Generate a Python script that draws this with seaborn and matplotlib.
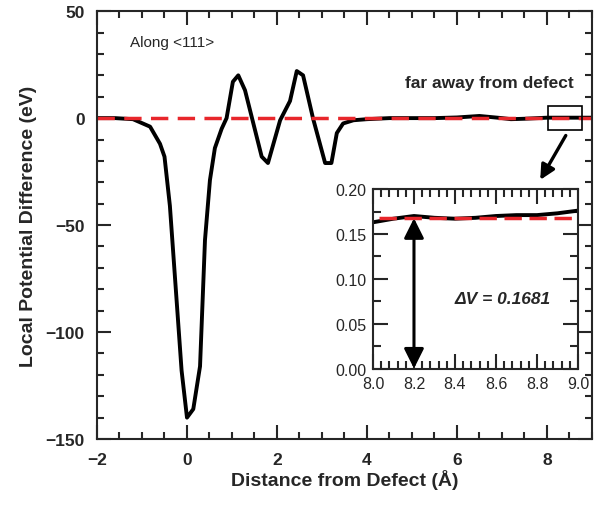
import matplotlib
matplotlib.use("Agg")
import matplotlib.pyplot as plt
from matplotlib.ticker import MultipleLocator
from matplotlib.patches import Rectangle
import seaborn as sns
import pandas as pd

# main curve: local potential difference along <111>
dist = [-2.0, -1.6, -1.2, -0.82, -0.6, -0.5, -0.38, -0.12, 0.0, 0.14, 0.29, 0.4,
        0.51, 0.62, 0.77, 0.88, 1.02, 1.14, 1.29, 1.66, 1.8, 2.07, 2.29, 2.44,
        2.58, 2.8, 3.07, 3.21, 3.33, 3.47, 3.7, 4.0, 4.5, 5.0, 5.5, 6.0, 6.5,
        7.0, 7.2, 7.5, 8.0, 8.5, 9.0]
pot = [0, 0, -0.5, -4, -12, -18, -41, -118, -140, -136, -116, -57,
       -29, -14, -5, 0, 17, 20, 13, -18, -21, -1, 8, 22,
       20, 0, -21, -21, -7, -2.5, -1, -0.5, 0, 0, 0, 0.3, 1,
       0, -0.5, -0.3, 0.2, 0.2, 0.2]

# inset: far away from defect
far_x = [8.0, 8.1, 8.2, 8.3, 8.4, 8.5, 8.6, 8.7, 8.8, 8.9, 9.0]
far_v = [0.163, 0.167, 0.170, 0.168, 0.167, 0.168, 0.170, 0.171, 0.171, 0.173, 0.176]
delta_v = 0.1681

main_df = pd.DataFrame({"x": dist, "y": pot})
ref_df = pd.DataFrame({"x": [-2.0, 9.0], "y": [0.0, 0.0]})
far_df = pd.DataFrame({"x": far_x, "y": far_v})
dv_df = pd.DataFrame({"x": [8.03, 8.99], "y": [delta_v, delta_v]})

sns.set_style("ticks")
plt.rcParams["font.family"] = ["Liberation Sans", "DejaVu Sans"]
plt.rcParams["axes.linewidth"] = 1.5

red = "#e8262b"
fig = plt.figure(figsize=(6.04, 5.06), dpi=100)
ax = fig.add_axes([0.1606, 0.1304, 0.8194, 0.8456])

sns.lineplot(data=main_df, x="x", y="y", ax=ax, color="black", lw=2.8,
             sort=False, estimator=None)
sns.lineplot(data=ref_df, x="x", y="y", ax=ax, color=red, lw=2.5,
             dashes=False, estimator=None)
ax.lines[-1].set_dashes((5, 2.7))

ax.set_xlim(-2, 9)
ax.set_ylim(-150, 50)
ax.xaxis.set_minor_locator(MultipleLocator(0.5))
ax.yaxis.set_minor_locator(MultipleLocator(10))
ax.tick_params(which="both", direction="in", top=True, right=True, width=1.5)
ax.tick_params(which="major", length=10, pad=9, labelsize=12.5)
ax.tick_params(which="minor", length=5)
ax.set_xticks([-2, 0, 2, 4, 6, 8])
ax.set_xticklabels(["\u22122", "0", "2", "4", "6", "8"], fontweight="bold")
ax.set_yticks([-150, -100, -50, 0, 50])
ax.set_yticklabels(["\u2212150", "\u2212100", "\u221250", "0", "50"], fontweight="bold")
ax.set_xlabel("Distance from Defect (\u00c5)", fontsize=14, fontweight="bold", labelpad=2)
ax.set_ylabel("Local Potential Difference (eV)", fontsize=14, fontweight="bold", labelpad=6)

ax.text(-1.27, 35.5, "Along <111>", fontsize=11, va="center", ha="left")
ax.text(6.71, 16.5, "far away from defect", fontsize=12.5, fontweight="bold",
        va="center", ha="center")
ax.add_patch(Rectangle((8.02, -5.6), 0.75, 11.2, fill=False, lw=1.2, ec="black", zorder=5))
ax.annotate("", xy=(7.82, -30), xytext=(8.45, -7),
            arrowprops=dict(arrowstyle="-|>", color="black", lw=2.4, mutation_scale=22))

# inset
ins = fig.add_axes([0.6175, 0.2688, 0.3395, 0.3557])
sns.lineplot(data=far_df, x="x", y="y", ax=ins, color="black", lw=2.8,
             sort=False, estimator=None)
sns.lineplot(data=dv_df, x="x", y="y", ax=ins, color=red, lw=2.5, estimator=None)
ins.lines[-1].set_dashes((5, 2.2))
ins.set_xlim(8.0, 9.0)
ins.set_ylim(0, 0.20)
ins.xaxis.set_major_locator(MultipleLocator(0.2))
ins.xaxis.set_minor_locator(MultipleLocator(0.04))
ins.yaxis.set_major_locator(MultipleLocator(0.05))
ins.yaxis.set_minor_locator(MultipleLocator(0.025))
ins.xaxis.set_major_formatter(matplotlib.ticker.FormatStrFormatter("%.1f"))
ins.yaxis.set_major_formatter(matplotlib.ticker.FormatStrFormatter("%.2f"))
ins.tick_params(which="both", direction="in", top=True, right=True, width=1.5)
ins.tick_params(which="major", length=11, pad=5, labelsize=11.5)
ins.tick_params(which="minor", length=5.5)
ins.set_xlabel("")
ins.set_ylabel("")
ins.annotate("", xy=(8.2, 0.0005), xytext=(8.2, 0.1675),
             arrowprops=dict(arrowstyle="<|-|>", color="black", lw=2.2,
                             mutation_scale=30, shrinkA=0, shrinkB=0))
ins.text(8.63, 0.078, "\u0394V = 0.1681", fontsize=12.5, fontweight="bold",
         fontstyle="italic", ha="center", va="center")

fig.savefig("out.png", dpi=100)
